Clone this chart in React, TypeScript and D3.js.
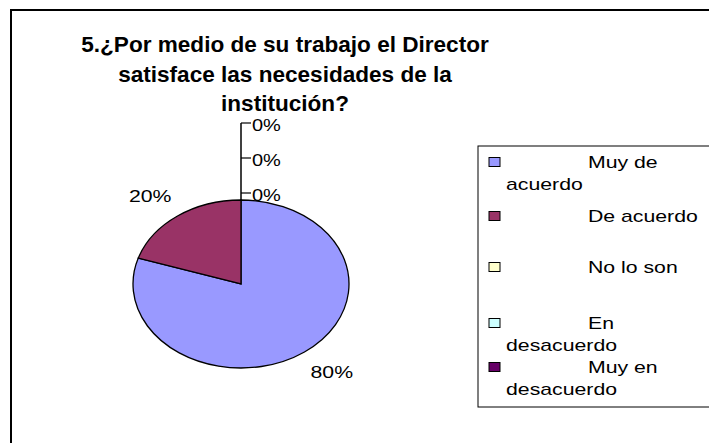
import React from "react";
import * as d3 from "d3";

const categories = ["Muy de acuerdo", "De acuerdo", "No lo son", "En desacuerdo", "Muy en desacuerdo"];
const values = [80, 20, 0, 0, 0];
const colors = ["#9999FF", "#993366", "#FFFFCC", "#CCFFFF", "#660066"];
const legendLines = [["Muy de", "acuerdo"], ["De acuerdo"], ["No lo son"], ["En", "desacuerdo"], ["Muy en", "desacuerdo"]];
const titleLines = ["5.¿Por medio de su trabajo el  Director", "satisface las necesidades de la", "institución?"];

const W = 709;
const H = 443;
const cx = 241;
const cy = 284;
const rx = 108;
const ry = 84;
const font = "'Liberation Sans', Arial, sans-serif";
const SX = 1.25;

function SText(props: { x: number; y: number; anchor?: string; size: number; children: React.ReactNode; weight?: string; sx?: number }) {
  return (
    <text
      transform={`translate(${props.x},${props.y}) scale(${props.sx ?? SX},1)`}
      textAnchor={props.anchor || "start"}
      fontSize={props.size}
      fontWeight={props.weight || "normal"}
      fill="#000"
    >
      {props.children}
    </text>
  );
}

export default function App() {
  const total = d3.sum(values);
  const pie = d3.pie<number>().sort(null).value((d) => d)(values);
  const arc = d3.arc<d3.PieArcDatum<number>>().innerRadius(0).outerRadius(rx);
  const fmt = (v: number) => `${Math.round((v / total) * 100)}%`;

  const legendRowY = [162, 216, 267, 323, 367];
  const zeroIdx = pie.filter((p) => p.value === 0);
  const topY = cy - ry;

  return (
    <svg width={W} height={H} style={{ position: "absolute", left: 0, top: 0, background: "#fff" }} fontFamily={font}>
      <rect x={11} y={10} width={740} height={480} fill="#fff" stroke="#000" strokeWidth={2} />
      {titleLines.map((t, i) => (
        <SText key={i} x={285} y={52 + i * 29.5} anchor="middle" size={21.5} weight="bold" sx={1.05}>
          {t}
        </SText>
      ))}
      <g transform={`translate(${cx},${cy}) scale(1,${ry / rx})`}>
        {pie.map((p, i) =>
          p.value > 0 ? (
            <path key={i} d={arc(p) || ""} fill={colors[i]} stroke="#000" strokeWidth={1.3} vectorEffect="non-scaling-stroke" />
          ) : null
        )}
      </g>
      {pie.map((p, i) => {
        if (p.value === 0) return null;
        const a = (p.startAngle + p.endAngle) / 2;
        const lx = cx + Math.sin(a) * rx * 1.43;
        const ly = cy - Math.cos(a) * ry * 1.3 + 6;
        return (
          <SText key={i} x={lx} y={ly} anchor="middle" size={17}>
            {fmt(p.value)}
          </SText>
        );
      })}
      {zeroIdx.length > 0 && (
        <line x1={cx} x2={cx} y1={topY} y2={topY - 7 - (zeroIdx.length - 1) * 35} stroke="#000" strokeWidth={1.5} />
      )}
      {zeroIdx.map((p, k) => {
        const y = topY - 7 - k * 35;
        return (
          <g key={k}>
            <line x1={cx} x2={cx + 10} y1={y} y2={y} stroke="#000" strokeWidth={1.2} />
            <SText x={cx + 11} y={y + 8} size={16}>
              {fmt(p.value)}
            </SText>
          </g>
        );
      })}
      <rect x={478} y={146} width={260} height={261} fill="#fff" stroke="#000" strokeWidth={1} />
      {categories.map((c, i) => (
        <g key={c}>
          <rect x={489} y={legendRowY[i] - 4.5} width={11} height={9} fill={colors[i]} stroke="#000" strokeWidth={1} />
          {legendLines[i].map((ln, j) => (
            <SText key={j} x={j === 0 ? 588 : 506} y={legendRowY[i] + 6 + j * 22} size={17}>
              {ln}
            </SText>
          ))}
        </g>
      ))}
    </svg>
  );
}
